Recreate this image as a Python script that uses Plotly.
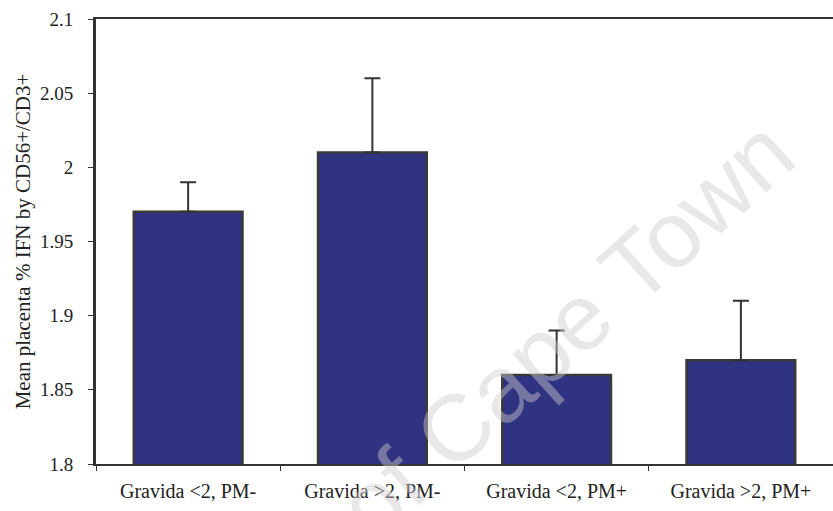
import plotly.graph_objects as go

categories = ["Gravida <2, PM-", "Gravida >2, PM-", "Gravida <2, PM+", "Gravida >2, PM+"]
means = [1.97, 2.01, 1.86, 1.87]
errors = [0.02, 0.05, 0.03, 0.04]
y_title = "Mean placenta % IFN by CD56+/CD3+"
watermark = "University of Cape Town"

W, H = 833, 511
L, R, T, B = 96, 0, 19, 47

fig = go.Figure()
fig.add_trace(go.Bar(
    x=categories, y=means,
    width=0.59,
    marker=dict(color="#303282", line=dict(color="#3a3a3a", width=2.5)),
    error_y=dict(type="data", symmetric=False, array=errors,
                 arrayminus=[0] * len(errors),
                 color="#333333", thickness=2, width=8),
))

# watermark position in pixels -> paper coords
cx, cy = 402, 476
fig.add_annotation(
    text=watermark, xref="paper", yref="paper",
    x=(cx - L) / (W - L - R), y=(H - B - cy) / (H - T - B),
    xanchor="center", yanchor="middle",
    showarrow=False, textangle=-42,
    font=dict(family="Liberation Sans, Arial, sans-serif", size=94,
              color="rgba(205,205,205,0.45)"),
)

fig.update_layout(
    width=W, height=H,
    margin=dict(l=L, r=R, t=T, b=B, pad=0),
    paper_bgcolor="white", plot_bgcolor="white",
    showlegend=False,
    font=dict(family="Liberation Serif, Times New Roman, serif", size=19, color="#222222"),
    bargap=0.41,
)
fig.update_xaxes(
    showline=True, linecolor="#333333", linewidth=2, mirror=True,
    ticks="outside", tickson="boundaries", ticklen=5, tickcolor="#333333",
    showgrid=False, tickfont=dict(size=20), range=[-0.5, 3.5],
    ticklabelstandoff=8,
)
fig.update_yaxes(
    range=[1.8, 2.1], dtick=0.05, tick0=1.8,
    showline=True, linecolor="#333333", linewidth=3,
    ticks="outside", ticklen=5, tickcolor="#333333",
    showgrid=False, zeroline=False, tickfont=dict(size=19),
    ticklabelstandoff=11,
    title=dict(text=y_title, font=dict(size=21), standoff=4),
)

fig.write_html("out.html")
